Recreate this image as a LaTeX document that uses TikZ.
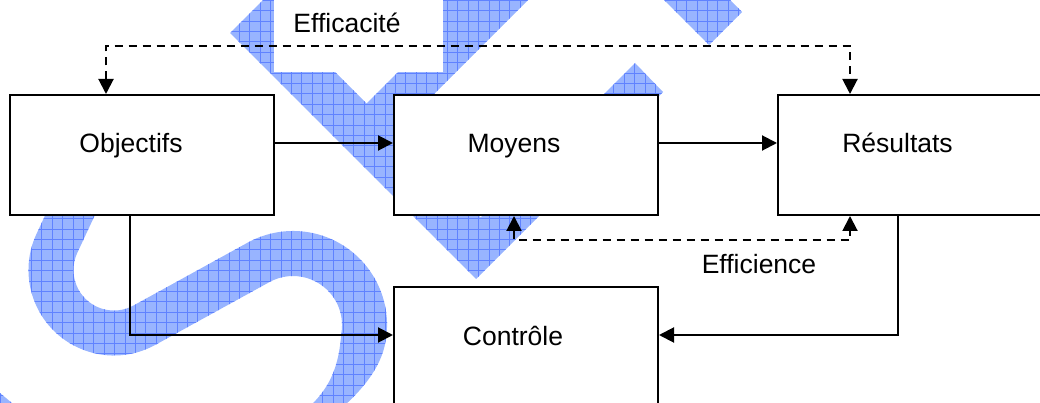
\documentclass[tikz,border=0pt]{standalone}
\usepackage{fontspec}
\setmainfont{Liberation Sans}
\usetikzlibrary{arrows.meta}
\definecolor{wmfill}{RGB}{152,180,255}
\definecolor{wmline}{RGB}{95,130,255}
% light blue checkered texture used to fill the background logo shapes
\newcommand\wmtexture{%
  \fill[wmfill] (-10,-10) rectangle (1050,420);
  \draw[wmline, line width=0.5pt, step=10.4] (-10.4,-10.4) grid (1050,420);}
\begin{document}
\begin{tikzpicture}[x=1pt, y=1pt, yscale=-1,
  box/.style={draw, line width=2pt, fill=white, minimum width=264pt,
              minimum height=120pt, inner sep=0pt},
  lbl/.style={font=\fontsize{26.5}{30}\selectfont, anchor=base, inner sep=0pt},
  conn/.style={line width=2pt, -{Triangle[length=15pt,width=15pt]}},
  dconn/.style={line width=2pt, dash pattern=on 8pt off 6pt,
                {Triangle[length=15pt,width=15pt]}-{Triangle[length=15pt,width=15pt]}}]
\useasboundingbox (0,0) rectangle (1040,403);
\clip (0,0) rectangle (1040,403);

% ---- background logo: S curve ----
\begin{scope}
  \clip (66.3,170) -- (36.5,233.9)
    arc[start angle=205, end angle=61.16, radius=85.5] -- (269.4,282.1)
    arc[start angle=241.16, end angle=370, radius=49]
    .. controls (339,362) and (333,392) .. (295,418) -- (330,418)
    .. controls (362,392) and (381,368) .. (385.6,341.3)
    arc[start angle=370, end angle=241.16, radius=94] -- (133.5,305.5)
    arc[start angle=61.16, end angle=205, radius=40.5] -- (116,170) -- cycle;
  \wmtexture
\end{scope}
\begin{scope}
  \clip (0,393) -- (12,403) -- (0,403) -- cycle;
  \wmtexture
\end{scope}
% ---- background logo: V and check bands ----
\begin{scope}
  \clip (230,33) -- (263,0) -- (300,0) -- (335,72) -- (366.5,103.5)
    -- (398,72) -- (420,0) -- (528,0) -- (395.5,132.5) -- (480.5,217.5)
    -- (635,63) -- (663,92) -- (476,279) -- cycle;
  \wmtexture
\end{scope}
\begin{scope}
  \clip (664,0) -- (730,0) -- (742,12) -- (709,45) -- cycle;
  \wmtexture
\end{scope}
% white panel behind the upper label
\fill[white] (274,0) rectangle (443,72);

% ---- boxes ----
\node[box] (obj) at (142,155) {};
\node[box] (moy) at (526,155) {};
\node[box] (res) at (910,155) {};
\node[box] (ctl) at (526,347) {};

% ---- texts ----
\node[lbl] (objT) at (131,153) {Objectifs};
\node[lbl] (moyT) at (514,153) {Moyens};
\node[lbl] (resT) at (897.5,153) {Résultats};
\node[lbl] (ctlT) at (513,345) {Contrôle};
\node[lbl] (effc) at (347,33) {Efficacité};
\node[lbl] (effn) at (759,273) {Efficience};

% ---- connectors ----
\draw[conn] (obj.east |- 0,143) -- (moy.west |- 0,143);
\draw[conn] (moy.east |- 0,143) -- (res.west |- 0,143);
\draw[conn] (obj.south -| 130,0) |- (ctl.west |- 0,335);
\draw[conn] (res.south -| 898,0) |- (ctl.east |- 0,335);
\draw[dconn] (obj.north -| 106,0) -- ++(0,-48) -| (res.north -| 850,0);
\draw[dconn] (moy.south -| 514,0) -- ++(0,24) -| (res.south -| 850,0);
\end{tikzpicture}
\end{document}
